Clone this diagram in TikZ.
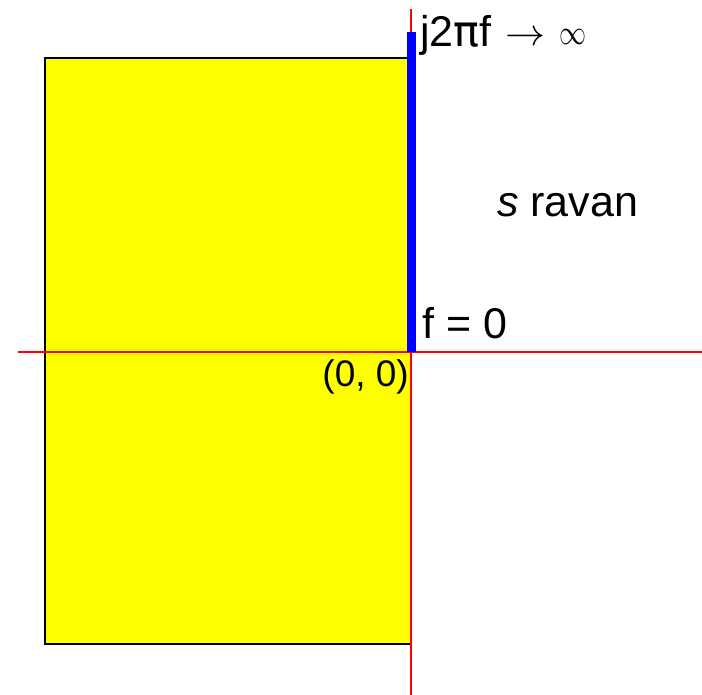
\documentclass[tikz,border=0pt]{standalone}
\usepackage{fontspec}
\setmainfont{Liberation Sans}
\newfontfamily\symfont{DejaVu Sans}
\definecolor{pureyellow}{RGB}{255,255,0}
\begin{document}
\begin{tikzpicture}[x=1pt,y=1pt,
  axisline/.style={draw=red,line width=1.5pt},
  lbl/.style={inner sep=0pt,anchor=base west,font=\fontsize{43}{50}\selectfont},
  symb/.style={inner sep=0pt,anchor=center},
  smalllbl/.style={inner sep=0pt,anchor=base east,font=\fontsize{37}{44}\selectfont}]
\useasboundingbox (0,0) rectangle (702,695);
\filldraw[fill=pureyellow,draw=black,line width=1.5pt] (45,51) rectangle (411,637);
\coordinate (xl) at (18,343);
\coordinate (xr) at (702,343);
\coordinate (yt) at (411,686);
\coordinate (yb) at (411,0);
\coordinate (o) at (411,343);
\coordinate (bt) at (411,663);
\draw[axisline] (xl) -- (xr);
\draw[axisline] (yb) -- (yt);
\draw[blue,line width=9pt] (o) -- (bt);
\node[lbl] (inf) at (420,648) {j2{\symfont π}f};
\node[symb] (arr) at (525,656) {\resizebox{40pt}{14pt}{$\rightarrow$}};
\node[symb] (infty) at (573,658) {\resizebox{27pt}{15pt}{$\infty$}};
\node[lbl] (f0) at (422,356) {f = 0};
\node[lbl] (sr) at (497,478) {\textit{s} ravan};
\node[smalllbl] (orig) at (409,308) {(0, 0)};
\end{tikzpicture}
\end{document}
